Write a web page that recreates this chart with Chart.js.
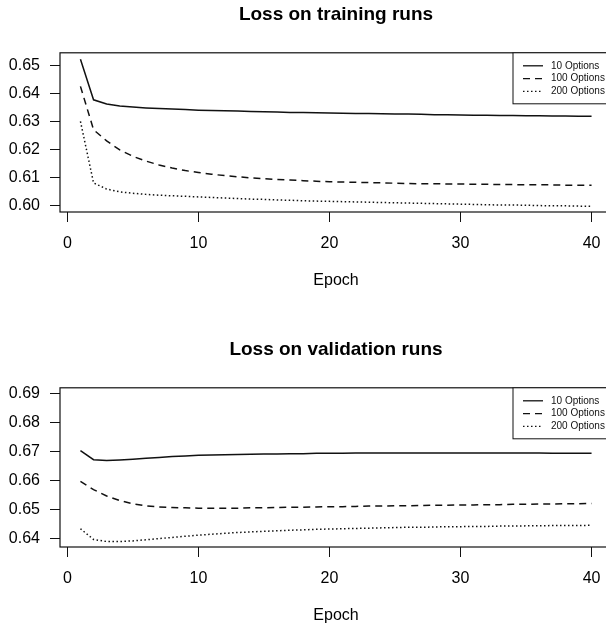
<!DOCTYPE html>
<html>
<head>
<meta charset="utf-8">
<script src="https://cdn.jsdelivr.net/npm/chart.js@4/dist/chart.umd.min.js"></script>
<style>
  html, body { margin: 0; padding: 0; background: #fff; overflow: hidden; width: 606px; height: 626px; }
  canvas { position: absolute; left: 0; }
</style>
</head>
<body>
<canvas id="c1" width="620" height="335" style="top:0px"></canvas>
<canvas id="c2" width="620" height="335" style="top:335px"></canvas>
<script>
const epochs = [1,2,3,4,5,6,7,8,9,10,11,12,13,14,15,16,17,18,19,20,21,22,23,24,25,26,27,28,29,30,31,32,33,34,35,36,37,38,39,40];
const seriesNames = ["10 Options", "100 Options", "200 Options"];

const train10 = [0.6522,0.6377,0.6362,0.6355,0.6351,0.6348,0.6346,0.6344,0.6342,0.6340,0.6339,0.6338,0.6337,0.6335,0.6334,0.6333,0.6332,0.6332,0.6331,0.6330,0.6329,0.6328,0.6328,0.6327,0.6326,0.6326,0.6325,0.6324,0.6324,0.6323,0.6322,0.6322,0.6321,0.6321,0.6320,0.6320,0.6319,0.6319,0.6318,0.6318];
const train100 = [0.6425,0.6270,0.6230,0.6198,0.6175,0.6158,0.6144,0.6133,0.6124,0.6117,0.6111,0.6106,0.6102,0.6098,0.6095,0.6092,0.6090,0.6088,0.6086,0.6084,0.6083,0.6082,0.6081,0.6080,0.6079,0.6078,0.6077,0.6077,0.6076,0.6076,0.6075,0.6075,0.6074,0.6074,0.6073,0.6073,0.6073,0.6072,0.6072,0.6072];
const train200 = [0.6300,0.6080,0.6058,0.6048,0.6043,0.6039,0.6036,0.6034,0.6032,0.6030,0.6028,0.6026,0.6024,0.6022,0.6021,0.6019,0.6018,0.6016,0.6015,0.6014,0.6013,0.6012,0.6011,0.6010,0.6009,0.6008,0.6007,0.6006,0.6005,0.6004,0.6003,0.6002,0.6001,0.6001,0.6000,0.5999,0.5998,0.5998,0.5997,0.5996];

const val10 = [0.6704,0.6673,0.6670,0.6672,0.6675,0.6678,0.6681,0.6684,0.6686,0.6688,0.6689,0.6690,0.6691,0.6692,0.6693,0.6693,0.6694,0.6694,0.6695,0.6695,0.6695,0.6696,0.6696,0.6696,0.6696,0.6696,0.6696,0.6696,0.6696,0.6696,0.6696,0.6696,0.6696,0.6696,0.6696,0.6696,0.6695,0.6695,0.6695,0.6695];
const val100 = [0.6598,0.6570,0.6548,0.6532,0.6521,0.6514,0.6510,0.6508,0.6507,0.6506,0.6506,0.6506,0.6506,0.6507,0.6507,0.6508,0.6509,0.6509,0.6510,0.6511,0.6511,0.6512,0.6513,0.6513,0.6514,0.6514,0.6515,0.6516,0.6516,0.6517,0.6517,0.6518,0.6518,0.6519,0.6519,0.6520,0.6520,0.6521,0.6521,0.6522];
const val200 = [0.6435,0.6398,0.6391,0.6391,0.6393,0.6397,0.6401,0.6405,0.6409,0.6413,0.6416,0.6419,0.6422,0.6424,0.6426,0.6428,0.6430,0.6431,0.6433,0.6434,0.6435,0.6436,0.6437,0.6438,0.6439,0.6440,0.6440,0.6441,0.6442,0.6442,0.6443,0.6443,0.6444,0.6444,0.6445,0.6445,0.6446,0.6446,0.6446,0.6447];

const xTicks = [0, 10, 20, 30, 40];
const trainYTicks = [0.60, 0.61, 0.62, 0.63, 0.64, 0.65];
const valYTicks = [0.64, 0.65, 0.66, 0.67, 0.68, 0.69];

const FONT = "'Liberation Sans', Arial, Helvetica, sans-serif";
Chart.defaults.color = '#000';
Chart.defaults.font.family = FONT;

const dashes = [[], [7, 5], [1.5, 2.5]];

const boxLegendPlugin = {
  id: 'boxLegend',
  afterDatasetsDraw(chart) {
    const ctx = chart.ctx;
    const a = chart.chartArea;
    ctx.save();
    ctx.strokeStyle = '#111';
    ctx.lineWidth = 1.2;
    ctx.setLineDash([]);
    ctx.strokeRect(a.left, a.top, a.right - a.left, a.bottom - a.top);
    // legend box
    const lx = a.right - 99, ly = a.top, lw = 99, lh = 51;
    ctx.fillStyle = '#fff';
    ctx.fillRect(lx, ly, lw, lh);
    ctx.lineWidth = 1;
    ctx.strokeRect(lx, ly, lw, lh);
    ctx.font = "10px " + FONT;
    ctx.textBaseline = 'middle';
    ctx.textAlign = 'left';
    chart.data.datasets.forEach((ds, i) => {
      const y = ly + 13 + i * 12.8;
      ctx.beginPath();
      ctx.setLineDash(ds.borderDash || []);
      ctx.lineWidth = 1.3;
      ctx.strokeStyle = '#111';
      ctx.moveTo(lx + 10, y);
      ctx.lineTo(lx + 30, y);
      ctx.stroke();
      ctx.setLineDash([]);
      ctx.fillStyle = '#111';
      ctx.fillText(ds.label, lx + 38, y);
    });
    ctx.restore();
  }
};

function makeChart(id, title, series, yTicks, yMin, yMax) {
  const datasets = series.map((vals, i) => ({
    label: seriesNames[i],
    data: epochs.map((e, k) => ({ x: e, y: vals[k] })),
    borderColor: '#111',
    borderWidth: 1.5,
    borderDash: dashes[i],
    pointRadius: 0,
    tension: 0,
    fill: false
  }));
  return new Chart(document.getElementById(id), {
    type: 'line',
    data: { datasets },
    plugins: [boxLegendPlugin],
    options: {
      responsive: false,
      animation: false,
      layout: { padding: { top: 0, left: 0, right: 8, bottom: 45 } },
      plugins: {
        legend: { display: false },
        tooltip: { enabled: false },
        title: {
          display: true,
          text: title,
          fullSize: false,
          color: '#000',
          font: { size: 19, weight: 'bold', family: FONT },
          padding: { top: 3, bottom: 27 }
        }
      },
      scales: {
        x: {
          type: 'linear',
          min: -0.56,
          max: 41.56,
          afterBuildTicks: (s) => { s.ticks = xTicks.map(v => ({ value: v })); },
          afterFit: (s) => { s.height = 78; },
          grid: { drawOnChartArea: false, drawTicks: true, tickLength: 10, color: '#111', lineWidth: 1 },
          border: { display: false },
          ticks: { padding: 12, maxRotation: 0, font: { size: 16, family: FONT }, color: '#000' },
          title: { display: true, text: 'Epoch', font: { size: 16, family: FONT }, color: '#000', padding: { top: 0, bottom: 0 } }
        },
        y: {
          type: 'linear',
          min: yMin,
          max: yMax,
          afterBuildTicks: (s) => { s.ticks = yTicks.map(v => ({ value: v })); },
          afterFit: (s) => { s.width = 60; },
          grid: { drawOnChartArea: false, drawTicks: true, tickLength: 10, color: '#111', lineWidth: 1 },
          border: { display: false },
          ticks: { padding: 10, font: { size: 16, family: FONT }, color: '#000', callback: (v) => v.toFixed(2) }
        }
      }
    }
  });
}

makeChart('c1', 'Loss on training runs', [train10, train100, train200], trainYTicks, 0.5976, 0.6545);
makeChart('c2', 'Loss on validation runs', [val10, val100, val200], valYTicks, 0.6372, 0.6921);
</script>
</body>
</html>
